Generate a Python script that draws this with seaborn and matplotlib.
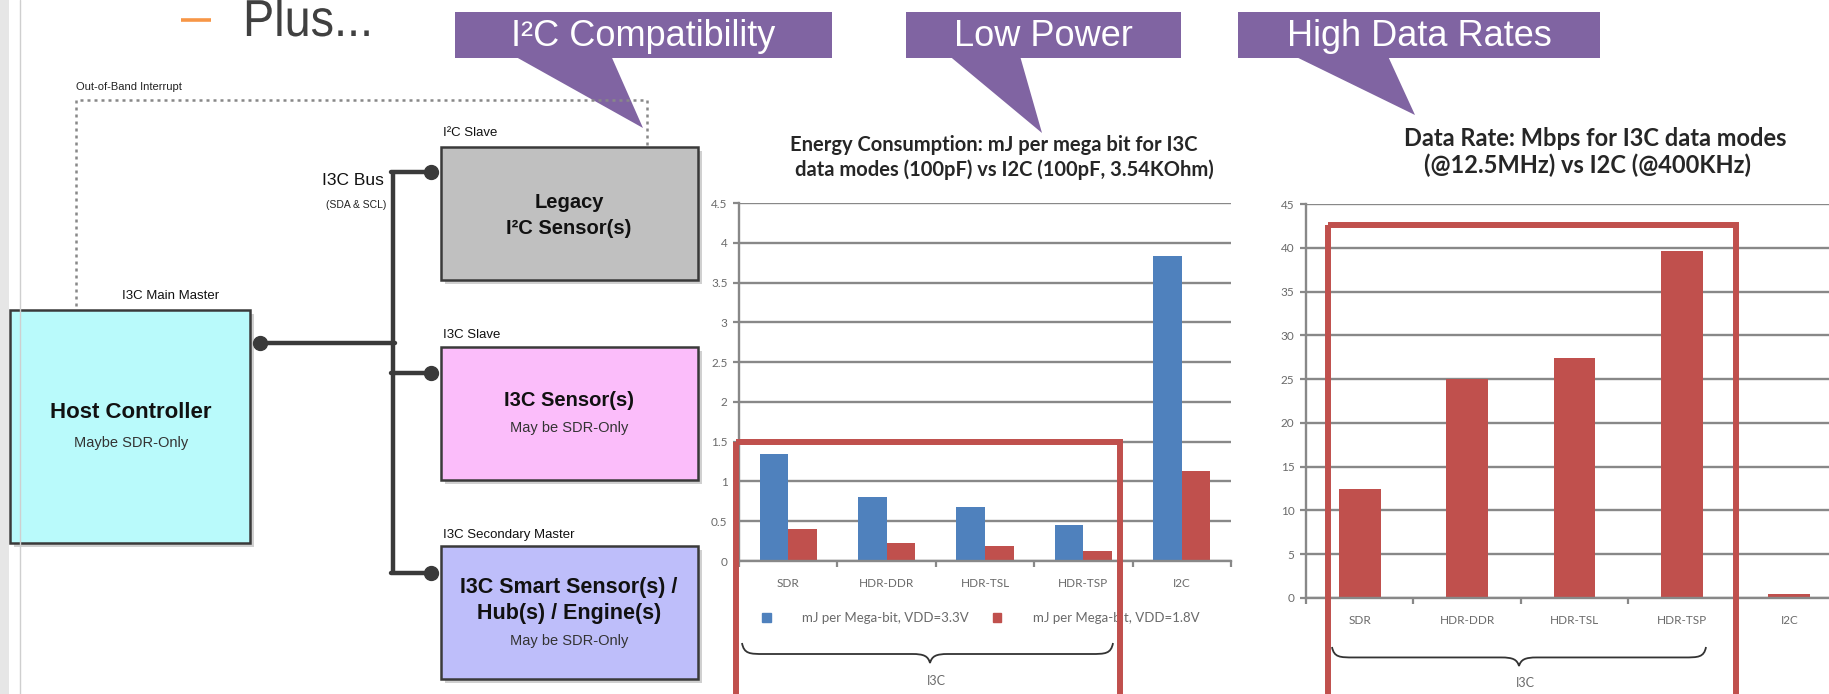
import matplotlib
matplotlib.use("Agg")
import matplotlib.pyplot as plt
import seaborn as sns
import pandas as pd
import numpy as np
from matplotlib.patches import Rectangle, Polygon, PathPatch, Patch
from matplotlib.path import Path
from matplotlib.textpath import TextPath
from matplotlib.font_manager import FontProperties
from matplotlib.transforms import Affine2D

# Chart data
modes = ["SDR", "HDR-DDR", "HDR-TSL", "HDR-TSP", "I2C"]
energy_series = ["mJ per Mega-bit, VDD=3.3V", "mJ per Mega-bit, VDD=1.8V"]
energy_33v = [1.35, 0.81, 0.68, 0.45, 3.84]
energy_18v = [0.40, 0.23, 0.19, 0.13, 1.13]
data_rate = [12.5, 25.0, 27.4, 39.6, 0.4]
energy_ticks = [0, 0.5, 1, 1.5, 2, 2.5, 3, 3.5, 4, 4.5]
energy_ticklabels = ["0", "0.5", "1", "1.5", "2", "2.5", "3", "3.5", "4", "4.5"]
rate_ticks = [0, 5, 10, 15, 20, 25, 30, 35, 40, 45]
rate_ticklabels = ["0", "5", "10", "15", "20", "25", "30", "35", "40", "45"]

# Colours
BLUE = "#4F81BD"
RED = "#C0504D"
PURPLE = "#8064A2"
GRID = "#888888"
TICK = "#6A6A6A"
DARK = "#3A3A3A"

W, H = 1829, 694

sns.set_theme(style="white")
plt.rcParams["font.family"] = ["Liberation Sans", "DejaVu Sans"]
NARROW = ["Liberation Sans Narrow", "Liberation Sans", "DejaVu Sans"]
CHART_FONT = ["Lato", "DejaVu Sans"]

fig = plt.figure(figsize=(W / 100, H / 100), dpi=100)
fig.patch.set_facecolor("white")


def px_axes(x0, y0, x1, y1):
    # axes placed by pixel box, y measured from the top
    return fig.add_axes([x0 / W, 1 - y1 / H, (x1 - x0) / W, (y1 - y0) / H])


def style_chart(ax, ticks, ticklabels, top, pad_x):
    ax.set_ylim(0, top)
    ax.set_xlim(-0.5, len(modes) - 0.5)
    ax.set_yticks(ticks)
    ax.set_yticklabels(ticklabels, fontfamily=CHART_FONT)
    ax.set_xticks(range(len(modes)))
    ax.set_xticklabels(modes, fontfamily=CHART_FONT)
    ax.set_xticks(np.arange(-0.5, len(modes), 1), minor=True)
    ax.yaxis.grid(True, color=GRID, lw=1.7)
    ax.xaxis.grid(False)
    ax.set_axisbelow(True)
    for s in ["top", "right"]:
        ax.spines[s].set_visible(False)
    for s in ["left", "bottom"]:
        ax.spines[s].set_color(GRID)
        ax.spines[s].set_linewidth(1.7)
    ax.tick_params(axis="x", which="major", bottom=False, length=0, pad=pad_x,
                   labelsize=8.5, labelcolor=TICK)
    ax.tick_params(axis="x", which="minor", bottom=True, length=4.5, width=1.6,
                   color=GRID, direction="out")
    ax.tick_params(axis="y", left=True, length=4.3, width=1.6, color=GRID,
                   pad=4, labelsize=8.5, labelcolor=TICK, direction="out")
    ax.set_xlabel("")
    ax.set_ylabel("")
    ax.patch.set_alpha(0)


# Energy chart
ax1 = px_axes(739, 203, 1231, 561)
energy_df = pd.DataFrame({
    "mode": modes * 2,
    "series": [energy_series[0]] * len(modes) + [energy_series[1]] * len(modes),
    "value": energy_33v + energy_18v,
})
sns.barplot(data=energy_df, x="mode", y="value", hue="series", order=modes,
            hue_order=energy_series, palette=[BLUE, RED], width=0.58,
            saturation=1, linewidth=0, legend=False, ax=ax1)
style_chart(ax1, energy_ticks, energy_ticklabels, 4.5, 12)
ax1.legend(handles=[Patch(color=BLUE), Patch(color=RED)], labels=energy_series,
           ncol=2, loc="center left", bbox_to_anchor=(762 / W, 1 - 618 / H),
           bbox_transform=fig.transFigure, frameon=False, borderpad=0,
           borderaxespad=0, handlelength=0.65, handleheight=0.65,
           handletextpad=2.4, columnspacing=1.8,
           prop={"family": CHART_FONT, "size": 9.5}, labelcolor=TICK)

# Data rate chart
ax2 = px_axes(1306, 204, 1843, 598)
rate_df = pd.DataFrame({"mode": modes, "rate": data_rate})
sns.barplot(data=rate_df, x="mode", y="rate", order=modes, color=RED,
            width=0.39, saturation=1, linewidth=0, ax=ax2)
style_chart(ax2, rate_ticks, rate_ticklabels, 45, 12)

# Chart titles
title_kw = dict(ha="center", va="center", fontweight="bold", color="#262626",
                family=CHART_FONT)
fig.text(994 / W, 1 - 145 / H, "Energy Consumption: mJ per mega bit for I3C",
         fontsize=14.5, **title_kw)
fig.text(1004 / W, 1 - 170 / H, "data modes (100pF) vs I2C (100pF, 3.54KOhm)",
         fontsize=14.5, **title_kw)
fig.text(1595 / W, 1 - 139 / H, "Data Rate: Mbps for I3C data modes",
         fontsize=17, **title_kw)
fig.text(1587 / W, 1 - 165 / H, "(@12.5MHz) vs I2C (@400KHz)",
         fontsize=17, **title_kw)

# Overlay in pixel coordinates for the diagram, callouts and highlights
ov = fig.add_axes([0, 0, 1, 1])
ov.set_xlim(0, W)
ov.set_ylim(H, 0)
ov.axis("off")
ov.patch.set_alpha(0)

# slide edge
ov.add_patch(Rectangle((0, 0), 9, H, fc="#E6E6E6", ec="none"))
ov.plot([20, 20], [0, H], color="#CFCFCF", lw=1)

# heading, drawn as a slightly condensed text path
ov.plot([181, 211], [20, 20], color="#F79646", lw=2.6, solid_capstyle="butt")
plus_path = TextPath((0, 0), "Plus...", size=52,
                     prop=FontProperties(family="Liberation Sans"))
plus_path = Affine2D().scale(0.9, -1.0).translate(243, 36).transform_path(plus_path)
ov.add_patch(PathPatch(plus_path, fc="#404040", ec="none"))


def box(x0, y0, x1, y1, fc):
    ov.add_patch(Rectangle((x0 + 4, y0 + 4), x1 - x0, y1 - y0, fc="#BDBDBD",
                           ec="none", alpha=0.7))
    ov.add_patch(Rectangle((x0, y0), x1 - x0, y1 - y0, fc=fc, ec=DARK, lw=1.8))


# out-of-band dotted line
ov.plot([76, 76, 647, 647], [306, 100, 100, 147], color="#888888", lw=1.8,
        linestyle=(0, (1.2, 1.6)))
ov.text(76, 87, "Out-of-Band Interrupt", fontsize=8, color="#222222",
        ha="left", va="center", family=NARROW)

# bus
ov.plot([393, 393], [172, 574], color=DARK, lw=3.2, solid_capstyle="butt")
for yb in [172, 373, 573]:
    ov.plot([391, 431], [yb, yb], color=DARK, lw=3.2)
    ov.plot([431], [yb], "o", color=DARK, markersize=10)
ov.plot([260, 395], [343, 343], color=DARK, lw=3.2)
ov.plot([260], [343], "o", color=DARK, markersize=10)
ov.text(384, 180, "I3C Bus", fontsize=12.5, ha="right", va="center",
        color="#111111", family=NARROW)
ov.text(386, 205, "(SDA & SCL)", fontsize=7.5, ha="right", va="center",
        color="#222222", family=NARROW)

# boxes
box(10, 310, 250, 543, "#B9FAFB")
box(441, 147, 698, 280, "#C0C0C0")
box(441, 347, 698, 480, "#FBBDFA")
box(441, 546, 698, 679, "#BEBEFA")

ov.text(122, 296, "I3C Main Master", fontsize=9.5, ha="left", va="center",
        color="#111111", family=NARROW)
ov.text(443, 133, "I²C Slave", fontsize=9.5, ha="left", va="center",
        color="#111111", family=NARROW)
ov.text(443, 335, "I3C Slave", fontsize=9.5, ha="left", va="center",
        color="#111111", family=NARROW)
ov.text(443, 535, "I3C Secondary Master", fontsize=9.5, ha="left", va="center",
        color="#111111", family=NARROW)

head_kw = dict(fontsize=14.5, fontweight="bold", ha="center", va="center",
               color="#111111")
sub_kw = dict(fontsize=10.5, ha="center", va="center", color="#333333",
              family=NARROW)
ov.text(131, 412, "Host Controller", **{**head_kw, "fontsize": 16})
ov.text(131, 443, "Maybe SDR-Only", **sub_kw)
ov.text(569, 202, "Legacy", **head_kw)
ov.text(569, 228, "I²C Sensor(s)", **head_kw)
ov.text(569, 400, "I3C Sensor(s)", **head_kw)
ov.text(569, 428, "May be SDR-Only", **sub_kw)
ov.text(569, 587, "I3C Smart Sensor(s) /", **{**head_kw, "fontsize": 15.5})
ov.text(569, 613, "Hub(s) / Engine(s)", **{**head_kw, "fontsize": 15.5})
ov.text(569, 641, "May be SDR-Only", **sub_kw)


# braces under the I3C modes
def brace(x0, x1, xm, ytop, ybot, label, ylab):
    ym = ytop + (ybot - ytop) * 0.55
    verts = [(x0, ytop),
             (x0 + 2, ym), (x0 + 8, ym), (x0 + 22, ym),
             (xm - 18, ym),
             (xm - 6, ym), (xm - 2, ym + 2), (xm, ybot),
             (xm + 2, ym + 2), (xm + 6, ym), (xm + 18, ym),
             (x1 - 22, ym),
             (x1 - 8, ym), (x1 - 2, ym), (x1, ytop)]
    codes = [Path.MOVETO, Path.CURVE4, Path.CURVE4, Path.CURVE4, Path.LINETO,
             Path.CURVE4, Path.CURVE4, Path.CURVE4, Path.CURVE4, Path.CURVE4,
             Path.CURVE4, Path.LINETO, Path.CURVE4, Path.CURVE4, Path.CURVE4]
    ov.add_patch(PathPatch(Path(verts, codes), fc="none", ec="#333333", lw=1.3))
    ov.text(xm + 6, ylab, label, fontsize=9, ha="center", va="center",
            color=TICK, family=CHART_FONT)


brace(742, 1113, 930, 643, 663, "I3C", 681)
brace(1332, 1706, 1519, 647, 666, "I3C", 683)

# red highlight frames
ov.add_patch(Rectangle((736, 442), 384, 270, fc="none", ec=RED, lw=4.3))
ov.add_patch(Rectangle((1328, 225), 408, 490, fc="none", ec=RED, lw=4.3))


# callouts
def callout(x0, x1, tip, text):
    y0, y1 = 12, 58
    w = x1 - x0
    pts = [(x0, y0), (x1, y0), (x1, y1), (x0 + w * 5 / 12, y1), tip,
           (x0 + w * 2 / 12, y1), (x0, y1)]
    ov.add_patch(Polygon(pts, closed=True, fc=PURPLE, ec="none"))
    ov.text((x0 + x1) / 2, (y0 + y1) / 2 + 1, text, fontsize=26, color="white",
            ha="center", va="center")


callout(455, 832, (643, 128), "I²C Compatibility")
callout(906, 1181, (1042, 133), "Low Power")
callout(1238, 1600, (1415, 115), "High Data Rates")

fig.savefig("out.png", dpi=100, facecolor="white")
